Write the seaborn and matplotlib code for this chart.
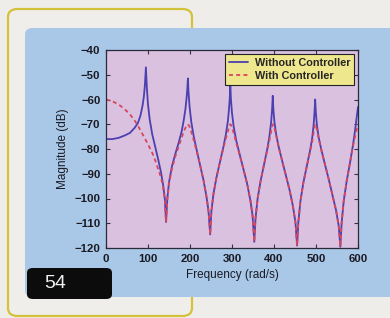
import matplotlib
matplotlib.use("Agg")
import matplotlib.pyplot as plt
from matplotlib.patches import FancyBboxPatch
import seaborn as sns
import pandas as pd

# frequency grid (rad/s)
freq = [0, 15, 30, 45, 57, 68, 76, 82, 87, 90, 92.5, 95, 97.5, 100, 104, 110, 117, 124, 131, 136, 140, 143,
        146, 150, 157, 165, 173, 180, 185, 189, 191.5, 193.5, 195, 196.5, 199, 203, 209, 216, 224, 232, 239, 244, 248,
        251, 256, 263, 271, 279, 285, 290, 292.5, 294.5, 296, 297.5, 300, 304, 310, 318, 327, 336, 344, 349, 353,
        356, 361, 368, 376, 384, 389, 393, 395.5, 397, 398.5, 401, 405, 411, 419, 428, 437, 445, 451, 455,
        458, 463, 470, 478, 486, 491, 494.5, 496.5, 498, 499.5, 502, 506, 513, 521, 530, 539, 548, 554, 558,
        561, 566, 573, 581, 588, 593, 597, 600]

# magnitude without controller (dB)
mag_without = [-76, -76, -75.5, -74.5, -73.5, -71.5, -69.5, -66.5, -62.5, -59, -54.5, -47, -56, -62, -68, -74, -79, -84, -89.5, -94.5, -100, -109.5,
               -100, -93.5, -87, -82, -77.5, -73, -68.5, -64, -60, -56, -51.5, -57, -63, -69, -75, -80.5, -86.5, -92.5, -99, -105, -114.5,
               -105, -98, -91.5, -85.5, -79.5, -74.5, -69, -64.5, -60, -54, -60, -65.5, -71, -76.5, -82, -88, -94, -101, -107, -117.5,
               -108, -100, -93, -86.5, -80, -75, -69.5, -64, -58.5, -64, -69, -74, -79, -84.5, -90.5, -96.5, -103, -109.5, -119,
               -109.5, -101, -93.5, -87, -80.5, -75.5, -70, -65, -60, -65, -70, -75, -80.5, -86, -92, -98.5, -105, -111, -119.5,
               -110, -101, -93, -85.5, -78.5, -72.5, -67, -63]

# magnitude with controller (dB)
mag_with = [-60, -60.7, -62, -64, -66, -68.5, -70.5, -72.5, -74, -75, -75.8, -76.5, -77.3, -78, -79.5, -81.5, -84.5, -88, -91.5, -95.5, -100.5, -109.5,
            -100.5, -94, -88, -83, -79, -75.5, -73, -71.5, -70.8, -70.3, -70, -70.3, -71, -73, -76.5, -81, -86.5, -92.5, -99, -105, -114.5,
            -105, -98, -91.5, -85.5, -80, -76, -73, -71.5, -70.5, -70, -70.3, -71.5, -73.5, -77.5, -82.3, -88, -94, -101, -107, -117.5,
            -108, -100, -93, -86.5, -80.5, -76.5, -73, -71, -70, -70.5, -71.5, -74.5, -79.3, -84.5, -90.5, -96.5, -103, -109.5, -119,
            -109.5, -101, -93.5, -87, -81, -77, -73, -71, -70, -70.5, -72, -75.5, -80.7, -86, -92, -98.5, -105, -111, -119.5,
            -110, -101, -93, -85.5, -79, -75, -72, -70]

x_ticks = [0, 100, 200, 300, 400, 500, 600]
y_ticks = [-120, -110, -100, -90, -80, -70, -60, -50, -40]

df = pd.DataFrame({"freq": freq, "without": mag_without, "with": mag_with})

sns.set_style("ticks")
plt.rcParams["font.family"] = ["Liberation Sans", "DejaVu Sans"]
plt.rcParams["xtick.direction"] = "in"
plt.rcParams["ytick.direction"] = "in"

W, H = 390, 318
fig = plt.figure(figsize=(3.9, 3.18), dpi=100)
fig.patch.set_facecolor("#eeede9")

def box(x0, y0, x1, y1, **kw):
    # pixel coords (top-left origin) -> figure fraction
    p = FancyBboxPatch((x0 / W, 1 - y1 / H), (x1 - x0) / W, (y1 - y0) / H,
                       transform=fig.transFigure, **kw)
    fig.add_artist(p)
    return p

# yellow frame, blue panel, black number tab
box(8, 9, 192, 316, boxstyle="round,pad=0,rounding_size=0.025",
    facecolor="#efeeea", edgecolor="#d4c23a", linewidth=1.6, zorder=0)
box(25, 28, 400, 297, boxstyle="round,pad=0,rounding_size=0.02",
    facecolor="#a9c7e6", edgecolor="none", zorder=0.5)
box(27, 268, 112, 299, boxstyle="round,pad=0,rounding_size=0.015",
    facecolor="#0c0c0c", edgecolor="none", zorder=3)
fig.text(55.5 / W, 1 - 284 / H, "54", color="#f0f0f0", fontsize=14,
         va="center", ha="center", zorder=4)

ax = fig.add_axes([106 / W, 1 - 248 / H, 252 / W, 198 / H])
ax.set_zorder(2)
ax.set_facecolor("#d9c1df")

sns.lineplot(data=df, x="freq", y="without", ax=ax, color="#4c3fb0", linewidth=1.3,
             label="Without Controller", sort=False)
sns.lineplot(data=df, x="freq", y="with", ax=ax, color="#d8465c", linewidth=1.3,
             dashes=False, label="With Controller", sort=False)
ax.lines[1].set_dashes([2.2, 1.8])

ax.set_xlim(0, 600)
ax.set_ylim(-120, -40)
ax.set_xticks(x_ticks)
ax.set_yticks(y_ticks)
ax.set_yticklabels([f"\u2212{abs(v)}" for v in y_ticks])
ax.tick_params(labelsize=8.2, length=3, width=0.8, color="#333344", labelcolor="#1a1a24",
               top=True, right=True)
ax.tick_params(axis="x", pad=4)
ax.tick_params(axis="y", pad=4)
for lab in ax.get_xticklabels() + ax.get_yticklabels():
    lab.set_fontweight("bold")
for s in ax.spines.values():
    s.set_color("#2a2a3a")
    s.set_linewidth(0.9)

ax.set_xlabel("Frequency (rad/s)", fontsize=8.5, color="#1a1a24", labelpad=4)
ax.set_ylabel("Magnitude (dB)", fontsize=8.5, color="#1a1a24", labelpad=4)

leg = ax.legend(loc="upper right", frameon=True, fancybox=False,
                facecolor="#efe78e", edgecolor="#222222", framealpha=1,
                handlelength=1.8, handletextpad=0.6, borderpad=0.35,
                labelspacing=0.3, borderaxespad=0.35,
                prop={"weight": "bold", "size": 7.8})
leg.get_frame().set_linewidth(0.8)

fig.savefig("out.png", dpi=100, facecolor=fig.get_facecolor())
